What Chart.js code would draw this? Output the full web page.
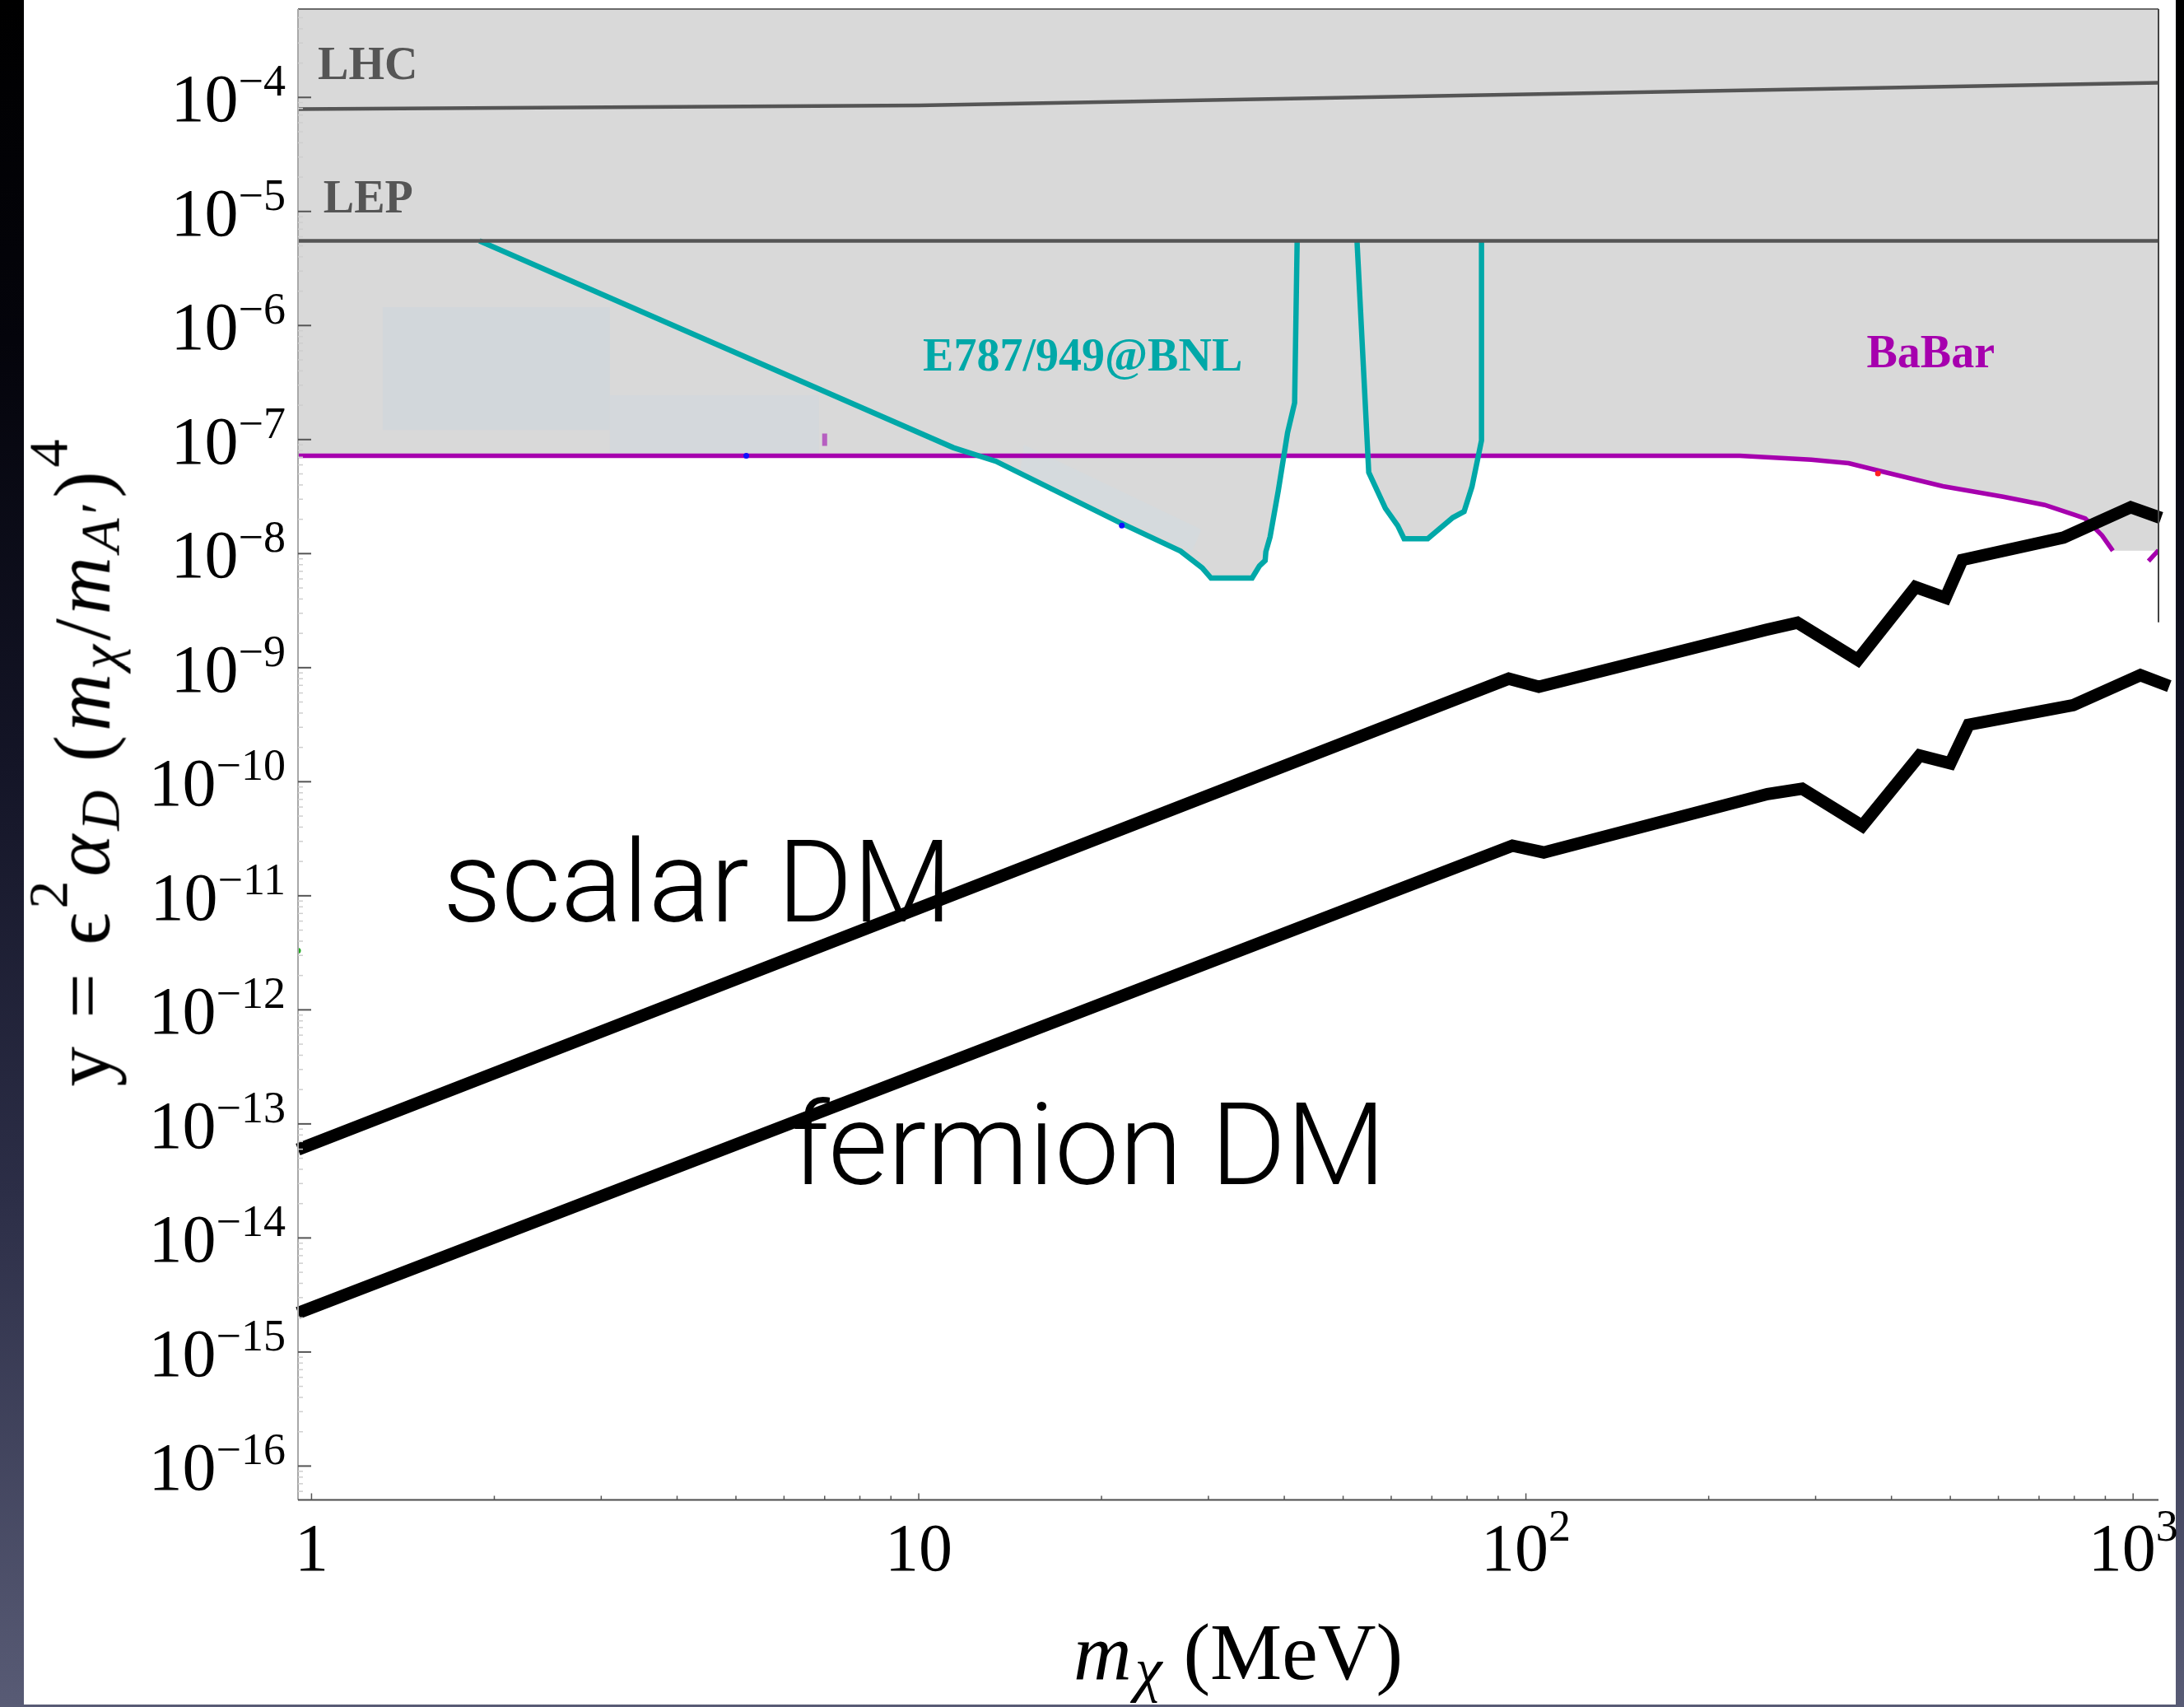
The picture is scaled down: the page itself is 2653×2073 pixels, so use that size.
<!DOCTYPE html>
<html>
<head>
<meta charset="utf-8">
<script src="https://cdn.jsdelivr.net/npm/chart.js@4.4.1/dist/chart.umd.min.js"></script>
<style>
  html, body { margin:0; padding:0; }
  body { width:2653px; height:2073px; position:relative; overflow:hidden;
    background: linear-gradient(to bottom, #000000 0%, #04040b 20%, #141527 45%, #2c2e47 70%, #585b75 100%); }
  #paper { position:absolute; left:29px; top:0; width:2614px; height:2070px; background:#ffffff; }
  #chart { position:absolute; left:0; top:0; }
  .math { position:absolute; font-family:"Liberation Serif","Times New Roman",serif; color:#000; white-space:nowrap; line-height:1; }
  #ytitle { left:100px; top:924px; font-size:97px; letter-spacing:5px; transform: translate(-50%,-50%) rotate(-90deg); }
  #xtitle { left:1504px; top:1957px; font-size:98px; transform: translateX(-50%); }
  .sup { font-size:0.7em; position:relative; top:-0.75em; }
  .sub { font-size:0.7em; position:relative; top:0.18em; }
  #xtitle .sub { font-size:0.76em; margin-left:4px; }
  #xtitle .unit { margin-left:26px; }
  i { font-style:italic; }
</style>
</head>
<body>
<div id="paper"></div>
<canvas id="chart" width="2653" height="2073"></canvas>
<div id="ytitle" class="math">y = ϵ<span class="sup">2</span><i>α</i><span class="sub"><i>D</i></span> (<i>m</i><span class="sub"><i>χ</i></span>/<i>m</i><span class="sub"><i>A</i>′</span>)<span class="sup">4</span></div>
<div id="xtitle" class="math"><i>m</i><span class="sub"><i>χ</i></span><span class="unit">(MeV)</span></div>
<script>
// ---------- axis ranges and ticks ----------
const xRange = [0.95, 1101];
const yRange = [5.05e-17, 5.95e-4];
const xTickValues = [1, 10, 100, 1000];
const xTickLabels = ['1', '10', '10^2', '10^3'];
const yTickValues = [1e-16, 1e-15, 1e-14, 1e-13, 1e-12, 1e-11, 1e-10, 1e-9, 1e-8, 1e-7, 1e-6, 1e-5, 1e-4];
const yTickLabels = ['10^−16', '10^−15', '10^−14', '10^−13', '10^−12', '10^−11', '10^−10', '10^−9', '10^−8', '10^−7', '10^−6', '10^−5', '10^−4'];

// ---------- series ----------
const lhcX = [0.95, 10, 1101];
const lhcY = [7.9e-5, 8.5e-5, 1.345e-4];
const lepX = [0.95, 1101];
const lepY = [5.53e-6, 5.53e-6];

const babarX = [0.95, 10, 100, 225, 295, 340, 383, 486, 611, 715, 800, 834, 889, 926, 990, 1060, 1101];
const babarY = [7.2e-8, 7.2e-8, 7.2e-8, 7.2e-8, 6.65e-8, 6.2e-8, 5.3e-8, 3.9e-8, 3.15e-8, 2.67e-8, 2.19e-8, 2.03e-8, 1.44e-8, 1.06e-8, null, 8.6e-9, 1.07e-8];

const e787X = [1.89, 11.4, 13.4, 21.3, 27, 29.3, 30.3, 35.4, 36.4, 37.2, 37.3, 37.9, 39.1, 40.5, 41.6, 42.0, 47, 52.7, 55.1, 58.7, 61.5, 63, 68.9, 75.8, 79.1, 81.5, 84.5, 84.5];
const e787Y = [5.53e-6, 8.5e-8, 6.45e-8, 1.9e-8, 1.05e-8, 7.5e-9, 6.1e-9, 6.1e-9, 7.8e-9, 8.7e-9, 1.04e-8, 1.4e-8, 3.56e-8, 1.15e-7, 2.1e-7, 5.53e-6, null, 5.53e-6, 5.16e-8, 2.49e-8, 1.76e-8, 1.35e-8, 1.35e-8, 2.07e-8, 2.34e-8, 3.86e-8, 9.8e-8, 5.53e-6];

// lower edge of the excluded (grey) region
const excludedX = [0.95, 12.6, 13.4, 21.3, 27, 29.3, 30.3, 35.4, 36.4, 37.2, 37.3, 37.9, 39.1, 39.9, 54.9, 55.1, 58.7, 61.5, 63, 68.9, 75.8, 79.1, 81.5, 83.5, 225, 295, 340, 383, 486, 611, 715, 800, 834, 889, 926, 1101];
const excludedY = [7.2e-8, 7.2e-8, 6.45e-8, 1.9e-8, 1.05e-8, 7.5e-9, 6.1e-9, 6.1e-9, 7.8e-9, 8.7e-9, 1.04e-8, 1.4e-8, 3.56e-8, 7.2e-8, 7.2e-8, 5.16e-8, 2.49e-8, 1.76e-8, 1.35e-8, 1.35e-8, 2.07e-8, 2.34e-8, 3.86e-8, 7.2e-8, 7.2e-8, 6.65e-8, 6.2e-8, 5.3e-8, 3.9e-8, 3.15e-8, 2.67e-8, 2.19e-8, 2.03e-8, 1.44e-8, 1.06e-8, 1.06e-8];

// pale patches inside the grey region
const patchAX = [1.31, 3.10, 3.10, 1.31, 1.31];
const patchAY = [1.45e-6, 1.45e-6, 1.21e-7, 1.21e-7, 1.45e-6];
const patchBX = [3.10, 6.85, 6.85, 3.10, 3.10];
const patchBY = [2.45e-7, 2.45e-7, 7.3e-8, 7.3e-8, 2.45e-7];
const patchCX = [14.9, 29.2, 28.2, 14.7, 14.9];
const patchCY = [9.0e-8, 1.63e-8, 1.05e-8, 5.36e-8, 9.0e-8];

// thermal targets
const scalarX = [0.95, 93.7, 105, 249, 280, 352, 438, 491, 523, 768, 991, 1112];
const scalarY = [5.97e-14, 8.0e-10, 6.8e-10, 2.15e-9, 2.48e-9, 1.17e-9, 5.1e-9, 4.1e-9, 8.8e-9, 1.38e-8, 2.55e-8, 2.05e-8];
const fermionX = [0.95, 95, 107, 250, 285, 358, 445, 500, 536, 797, 1028, 1147];
const fermionY = [2.2e-15, 2.75e-11, 2.4e-11, 7.8e-11, 8.7e-11, 4.1e-11, 1.7e-10, 1.45e-10, 3.16e-10, 4.7e-10, 8.6e-10, 6.9e-10];

// small stray marks
const dashX = [7.0, 7.0];
const dashY = [8.8e-8, 1.13e-7];
const dotX = [5.2, 21.6, 380, 0.95];
const dotY = [7.2e-8, 1.76e-8, 5.05e-8, 3.3e-12];
const dotColors = ['#1010ff', '#1010ff', '#ff2020', '#22aa22'];

// text labels (anchor = left end of baseline, in data units)
const noteText = ['LHC', 'LEP', 'E787/949@BNL', 'BaBar', 'scalar DM', 'fermion DM'];
const noteX = [1.024, 1.046, 10.16, 364, 1.646, 6.166];
const noteY = [1.45e-4, 9.8e-6, 4.03e-7, 4.27e-7, 5.93e-12, 2.96e-14];
const noteStyle = ['grey', 'grey', 'teal', 'magenta', 'big', 'big'];

// ---------- build ----------
const pts = (xs, ys) => xs.map((x, i) => ({ x: x, y: ys[i] }));
const SERIF = '"Liberation Serif", "Times New Roman", serif';
const TEAL = '#00a8a8', MAGENTA = '#a600ae', GREY = '#555555';

const deco = {
  id: 'deco',
  afterDatasetsDraw(chart) {
    const { ctx, chartArea: a } = chart;
    const sx = chart.scales.x, sy = chart.scales.y;
    ctx.save();
    ctx.lineCap = 'butt';
    // frame
    ctx.strokeStyle = '#6a6a6a'; ctx.lineWidth = 2;
    ctx.beginPath(); ctx.moveTo(a.left, a.top); ctx.lineTo(a.right, a.top); ctx.stroke();
    ctx.strokeStyle = '#444'; ctx.lineWidth = 2;
    ctx.beginPath(); ctx.moveTo(a.right, a.top); ctx.lineTo(a.right, sy.getPixelForValue(2.5e-9)); ctx.stroke();
    ctx.strokeStyle = '#a8a8a8'; ctx.lineWidth = 2;
    ctx.beginPath(); ctx.moveTo(a.left, a.top); ctx.lineTo(a.left, a.bottom); ctx.stroke();
    ctx.strokeStyle = '#4d4d4d'; ctx.lineWidth = 2;
    ctx.beginPath(); ctx.moveTo(a.left, a.bottom); ctx.lineTo(a.right, a.bottom); ctx.stroke();

    // y ticks (inside)
    for (let e = -17; e <= -4; e++) {
      for (let k = 1; k <= 9; k++) {
        const v = k * Math.pow(10, e);
        if (v < sy.min || v > sy.max) continue;
        const py = sy.getPixelForValue(v);
        ctx.beginPath();
        if (k === 1) { ctx.strokeStyle = '#555'; ctx.lineWidth = 2; ctx.moveTo(a.left, py); ctx.lineTo(a.left + 16, py); }
        else { ctx.strokeStyle = '#cfcfcf'; ctx.lineWidth = 1.5; ctx.moveTo(a.left, py); ctx.lineTo(a.left + 6, py); }
        ctx.stroke();
      }
    }
    // x ticks (inside)
    for (let e = -1; e <= 3; e++) {
      for (let k = 1; k <= 9; k++) {
        const v = k * Math.pow(10, e);
        if (v < sx.min || v > sx.max) continue;
        const px = sx.getPixelForValue(v);
        ctx.beginPath();
        ctx.strokeStyle = '#555'; ctx.lineWidth = 1.5;
        ctx.moveTo(px, a.bottom); ctx.lineTo(px, a.bottom - (k === 1 ? 8 : 5));
        ctx.stroke();
      }
    }

    // tick labels
    ctx.fillStyle = '#000';
    ctx.textBaseline = 'alphabetic';
    ctx.textAlign = 'left';
    const baseFont = '82px ' + SERIF, expFont = '54px ' + SERIF;
    yTickValues.forEach((v, i) => {
      const parts = yTickLabels[i].split('^');
      const py = sy.getPixelForValue(v);
      ctx.font = expFont; const we = ctx.measureText(parts[1]).width;
      ctx.font = baseFont; const wb = ctx.measureText(parts[0]).width;
      const right = a.left - 15;
      ctx.fillText(parts[0], right - we - wb, py + 29);
      ctx.font = expFont; ctx.fillText(parts[1], right - we, py - 2);
    });
    xTickValues.forEach((v, i) => {
      const parts = xTickLabels[i].split('^');
      const px = sx.getPixelForValue(v);
      ctx.font = baseFont; const wb = ctx.measureText(parts[0]).width;
      let we = 0;
      if (parts[1]) { ctx.font = expFont; we = ctx.measureText(parts[1]).width; }
      const left = px - (wb + we) / 2;
      const base = a.bottom + 85;
      ctx.font = baseFont; ctx.fillText(parts[0], left, base);
      if (parts[1]) { ctx.font = expFont; ctx.fillText(parts[1], left + wb, base - 36); }
    });

    // labels
    noteText.forEach((t, i) => {
      const px = sx.getPixelForValue(noteX[i]);
      const py = sy.getPixelForValue(noteY[i]);
      const st = noteStyle[i];
      if (st === 'big') { ctx.font = '300 140px Roboto, "Liberation Sans", sans-serif'; ctx.fillStyle = '#000'; }
      else {
        ctx.font = 'bold 56px ' + SERIF;
        ctx.fillStyle = st === 'grey' ? GREY : (st === 'teal' ? TEAL : MAGENTA);
      }
      ctx.fillText(t, px, py);
    });
    ctx.restore();
  }
};

const common = { pointRadius: 0, pointHoverRadius: 0, fill: false, tension: 0 };
new Chart(document.getElementById('chart'), {
  type: 'line',
  data: {
    datasets: [
      Object.assign({}, common, { label: 'excluded', data: pts(excludedX, excludedY), fill: 'end', backgroundColor: '#d9d9d9', borderColor: 'rgba(0,0,0,0)', borderWidth: 0, order: 100 }),
      Object.assign({}, common, { label: 'patchA', data: pts(patchAX, patchAY), fill: 'shape', backgroundColor: '#d2d7db', borderColor: 'rgba(0,0,0,0)', borderWidth: 0, order: 90 }),
      Object.assign({}, common, { label: 'patchB', data: pts(patchBX, patchBY), fill: 'shape', backgroundColor: '#d4d8dc', borderColor: 'rgba(0,0,0,0)', borderWidth: 0, order: 89 }),
      Object.assign({}, common, { label: 'patchC', data: pts(patchCX, patchCY), fill: 'shape', backgroundColor: '#d5dadd', borderColor: 'rgba(0,0,0,0)', borderWidth: 0, order: 88 }),
      Object.assign({}, common, { label: 'BaBar', data: pts(babarX, babarY), borderColor: MAGENTA, borderWidth: 5.5, order: 50 }),
      Object.assign({}, common, { label: 'dash', data: pts(dashX, dashY), borderColor: '#b65fc0', borderWidth: 6, order: 49 }),
      Object.assign({}, common, { label: 'E787/949@BNL', data: pts(e787X, e787Y), borderColor: TEAL, borderWidth: 6.5, order: 40 }),
      Object.assign({}, common, { label: 'LEP', data: pts(lepX, lepY), borderColor: GREY, borderWidth: 4.5, order: 30 }),
      Object.assign({}, common, { label: 'LHC', data: pts(lhcX, lhcY), borderColor: GREY, borderWidth: 4.5, order: 29 }),
      Object.assign({}, common, { label: 'scalar DM', data: pts(scalarX, scalarY), borderColor: '#000', borderWidth: 15, borderJoinStyle: 'miter', borderCapStyle: 'butt', clip: false, order: 10 }),
      Object.assign({}, common, { label: 'fermion DM', data: pts(fermionX, fermionY), borderColor: '#000', borderWidth: 15, borderJoinStyle: 'miter', borderCapStyle: 'butt', clip: false, order: 9 }),
      { label: 'marks', data: pts(dotX, dotY), showLine: false, pointRadius: 3.5, pointBorderWidth: 0, pointBackgroundColor: dotColors, order: 5 }
    ]
  },
  options: {
    responsive: false,
    animation: false,
    devicePixelRatio: 1,
    layout: { padding: { top: 11, right: 31, left: 0, bottom: 0 } },
    plugins: { legend: { display: false }, tooltip: { enabled: false } },
    events: [],
    scales: {
      x: { type: 'logarithmic', min: xRange[0], max: xRange[1], bounds: 'data',
           grid: { display: false }, border: { display: false }, ticks: { display: false },
           afterFit: s => { s.height = 251.5; } },
      y: { type: 'logarithmic', min: yRange[0], max: yRange[1], bounds: 'data',
           grid: { display: false }, border: { display: false }, ticks: { display: false },
           afterFit: s => { s.width = 362; } }
    }
  },
  plugins: [deco]
});
</script>
</body>
</html>
